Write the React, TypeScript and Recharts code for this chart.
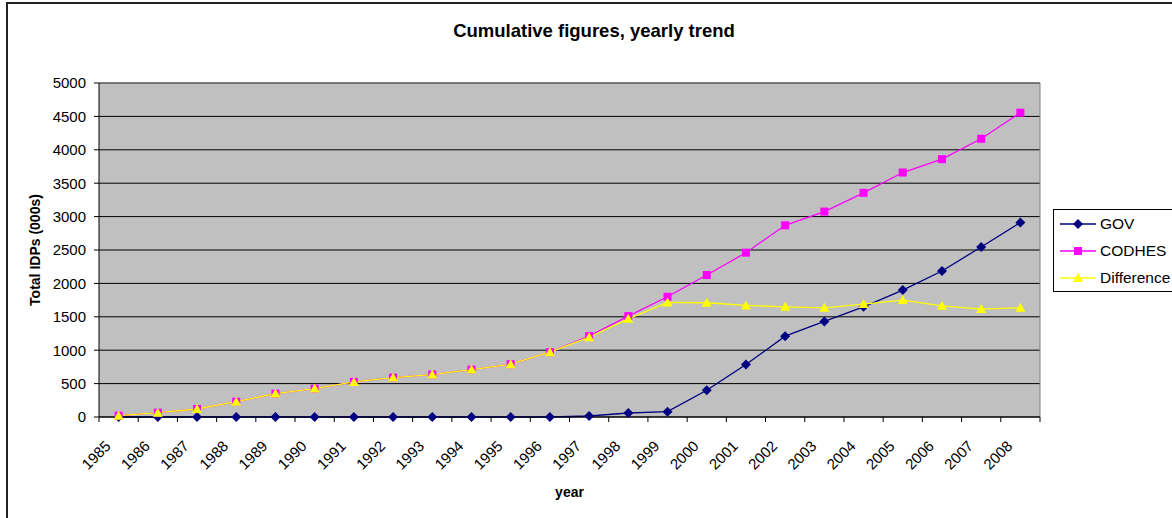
import { LineChart, Line, XAxis, YAxis, CartesianGrid, ReferenceLine } from "recharts";

const years = [
  "1985", "1986", "1987", "1988", "1989", "1990", "1991", "1992",
  "1993", "1994", "1995", "1996", "1997", "1998", "1999", "2000",
  "2001", "2002", "2003", "2004", "2005", "2006", "2007", "2008",
];
const gov = [
  0, 0, 0, 0, 0, 0, 0, 0, 0, 0, 0, 0,
  15, 60, 80, 400, 785, 1210, 1430, 1650, 1900, 2185, 2545, 2910,
];
const codhes = [
  20, 65, 120, 230, 350, 425, 525, 590, 635, 710, 790, 970,
  1210, 1510, 1800, 2125, 2460, 2870, 3075, 3355, 3660, 3860, 4165, 4555,
];
const difference = [
  20, 65, 120, 230, 350, 425, 525, 590, 635, 710, 790, 970,
  1195, 1470, 1715, 1710, 1670, 1650, 1635, 1690, 1750, 1665, 1615, 1635,
];
const yTicks = [0, 500, 1000, 1500, 2000, 2500, 3000, 3500, 4000, 4500, 5000];

const series = [
  { key: "gov", name: "GOV", color: "#000080", shape: "diamond" },
  { key: "codhes", name: "CODHES", color: "#FF00FF", shape: "square" },
  { key: "difference", name: "Difference", color: "#FFFF00", shape: "triangle" },
];

const data = years.map((_, i) => ({
  i,
  gov: gov[i],
  codhes: codhes[i],
  difference: difference[i],
}));

// integer ticks carry the year label, half steps carry the tick marks
const xTicks = years.flatMap((_, i) => [i - 0.5, i]).concat(years.length - 0.5);

const FONT = '"Liberation Sans", Arial, sans-serif';

const Marker = ({ shape, color, cx, cy }: { shape: string; color: string; cx: number; cy: number }) => {
  if (shape === "diamond")
    return <polygon points={`${cx},${cy - 5} ${cx + 5},${cy} ${cx},${cy + 5} ${cx - 5},${cy}`} fill={color} />;
  if (shape === "square")
    return <rect x={cx - 4} y={cy - 4} width={8} height={8} fill={color} />;
  return <polygon points={`${cx},${cy - 5} ${cx + 5},${cy + 4} ${cx - 5},${cy + 4}`} fill={color} />;
};

const YearTick = ({ x, y, payload }: any) => {
  const v = payload.value;
  if (!Number.isInteger(v)) {
    return <line x1={x} x2={x} y1={y} y2={y + 5} stroke="#000" />;
  }
  return (
    <text
      x={0}
      y={0}
      transform={`translate(${x - 7},${y + 30}) rotate(-45)`}
      textAnchor="end"
      fontSize={15}
      fontFamily={FONT}
      fill="#000">
      {years[v]}
    </text>
  );
};

const ChartLegend = () => (
  <div
    style={{
      position: "absolute",
      left: 1053,
      top: 209,
      width: 140,
      height: 81,
      border: "1px solid #000",
      background: "#fff",
      fontFamily: FONT,
      fontSize: 15.5,
    }}>
    {series.map((s) => (
      <div key={s.key} style={{ height: 27, display: "flex", alignItems: "center" }}>
        <svg width={36} height={14} style={{ marginLeft: 6, marginRight: 4 }}>
          <line x1={0} x2={36} y1={7} y2={7} stroke={s.color} strokeWidth={1.3} />
          <Marker shape={s.shape} color={s.color} cx={18} cy={7} />
        </svg>
        <span>{s.name}</span>
      </div>
    ))}
  </div>
);

export default function App() {
  return (
    <div
      style={{
        position: "absolute",
        left: 0,
        top: 0,
        width: 1172,
        height: 518,
        overflow: "hidden",
        background: "#fff",
        fontFamily: FONT,
      }}>
      <div
        style={{
          position: "absolute",
          left: 6,
          top: 2,
          width: 1300,
          height: 700,
          borderLeft: "2px solid #222",
          borderTop: "2px solid #222",
        }}
      />
      <div
        style={{
          position: "absolute",
          left: 0,
          top: 22,
          width: 1188,
          textAlign: "center",
          fontSize: 18.5,
          lineHeight: "18px",
          fontWeight: "bold",
        }}>
        Cumulative figures, yearly trend
      </div>
      <LineChart
        width={1172}
        height={518}
        data={data}
        margin={{ top: 83, right: 132, bottom: 0, left: 0 }}>
        <CartesianGrid vertical={false} stroke="#000" fill="#C0C0C0" fillOpacity={1} />
        <ReferenceLine y={5000} stroke="#808080" />
        <ReferenceLine x={23.5} stroke="#808080" />
        <XAxis
          dataKey="i"
          type="number"
          domain={[-0.5, 23.5]}
          ticks={xTicks}
          interval={0}
          height={101}
          tickSize={0}
          tickMargin={0}
          tickLine={false}
          axisLine={{ stroke: "#000" }}
          tick={<YearTick />}
          label={{
            value: "year",
            position: "insideBottom",
            offset: 21,
            style: { fontSize: 14, fontWeight: "bold", fill: "#000", fontFamily: FONT },
          }}
        />
        <YAxis
          domain={[0, 5000]}
          ticks={yTicks}
          interval={0}
          width={99}
          tickSize={5}
          tickMargin={8}
          axisLine={{ stroke: "#000" }}
          tickLine={{ stroke: "#000" }}
          tick={{ fontSize: 15, fill: "#000", fontFamily: FONT }}
          label={{
            value: "Total IDPs (000s)",
            angle: -90,
            position: "insideLeft",
            offset: 35,
            style: { textAnchor: "middle", fontSize: 14, fontWeight: "bold", fill: "#000", fontFamily: FONT },
          }}
        />
        {series.map((s) => (
          <Line
            key={s.key}
            type="linear"
            dataKey={s.key}
            name={s.name}
            stroke={s.color}
            strokeWidth={1.3}
            isAnimationActive={false}
            activeDot={false}
            dot={(p: any) => (
              <Marker key={`${s.key}-${p.index}`} shape={s.shape} color={s.color} cx={p.cx} cy={p.cy} />
            )}
          />
        ))}
      </LineChart>
      <ChartLegend />
    </div>
  );
}
